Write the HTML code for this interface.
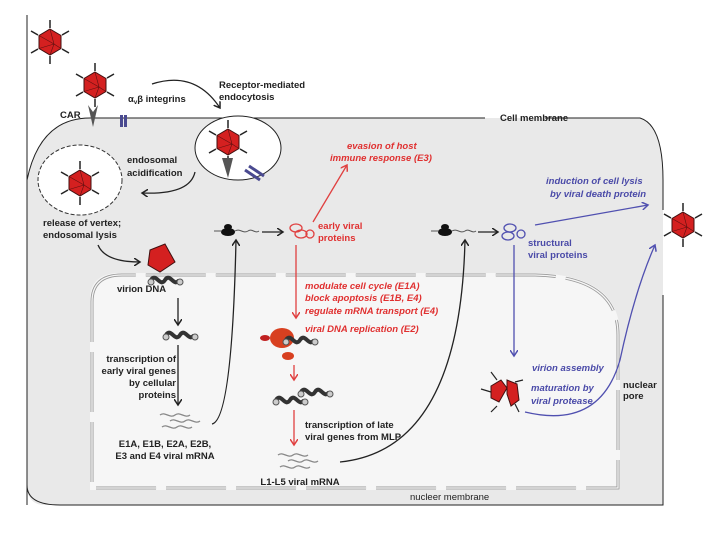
<!DOCTYPE html>
<html><head><meta charset="utf-8"><style>
body{margin:0;background:#fff}
svg{display:block;font-family:"Liberation Sans",sans-serif}
.b{font-size:9.5px;font-weight:bold;fill:#222}
.r{font-size:9.5px;font-weight:bold;font-style:italic;fill:#e03030}
.u{font-size:9.5px;font-weight:bold;font-style:italic;fill:#4a4aa8}
</style></head><body>
<svg width="720" height="540" viewBox="0 0 720 540">
<defs>
<marker id="ak" markerWidth="8" markerHeight="8" refX="6" refY="4" orient="auto" markerUnits="userSpaceOnUse"><path d="M0,0 L6,4 L0,8" fill="none" stroke="#222" stroke-width="1.5"/></marker>
<marker id="ar" markerWidth="8" markerHeight="8" refX="6" refY="4" orient="auto" markerUnits="userSpaceOnUse"><path d="M0,0 L6,4 L0,8" fill="none" stroke="#e04040" stroke-width="1.5"/></marker>
<marker id="au" markerWidth="8" markerHeight="8" refX="6" refY="4" orient="auto" markerUnits="userSpaceOnUse"><path d="M0,0 L6,4 L0,8" fill="none" stroke="#5050b0" stroke-width="1.5"/></marker>
<g id="vir"><g stroke="#222" stroke-width="1.5"><line x1="0" y1="-14" x2="0" y2="-22"/><line x1="12" y1="-7" x2="19" y2="-11"/><line x1="12" y1="7" x2="19" y2="11"/><line x1="0" y1="14" x2="0" y2="22"/><line x1="-12" y1="7" x2="-19" y2="11"/><line x1="-12" y1="-7" x2="-19" y2="-11"/></g><polygon points="0,-13 11,-6.5 11,6.5 0,13 -11,6.5 -11,-6.5" fill="#d42020" stroke="#401010" stroke-width="1"/><path d="M0,-13 L4,2 L11,6.5 M4,2 L-11,6.5 M4,2 L0,13 M-11,-6.5 L4,2" stroke="#601010" stroke-width="0.6" fill="none"/></g>
<g id="dna"><path d="M-14,0 c5,-8 9,8 14,0 c5,-8 9,8 14,0" stroke="#333" stroke-width="4" fill="none"/><circle cx="-14" cy="2" r="3" fill="#ccc" stroke="#555"/><circle cx="15" cy="2" r="3" fill="#ccc" stroke="#555"/></g>
<g id="mrna" fill="none" stroke="#888" stroke-width="1.3"><path d="M-20,0 c5,-4 10,4 15,0 c5,-4 10,4 15,0"/><path d="M-10,6 c5,-4 10,4 15,0 c5,-4 10,4 15,0"/><path d="M-18,12 c5,-4 10,4 15,0 c5,-4 10,4 15,0"/></g>
<g id="ribo"><ellipse cx="0" cy="2" rx="7" ry="4" fill="#111"/><ellipse cx="0" cy="-3" rx="4" ry="3" fill="#111"/><path d="M-14,1 L-6,1 M7,1 c5,-3 8,3 13,0 c4,-3 7,3 11,0" stroke="#555" fill="none"/></g>
</defs>
<!-- cell -->
<path d="M27,180 Q40,118 90,118 L640,118 Q663,125 663,180 L663,505 L45,505 Q27,505 27,485 Z" fill="#e9e9e9"/>
<path d="M27,180 Q40,118 90,118 L485,118 M545,118 L640,118 Q663,125 663,180 L663,210 M663,295 L663,505 L60,505 Q27,505 27,485" fill="none" stroke="#222" stroke-width="1"/>
<line x1="27" y1="15" x2="27" y2="505" stroke="#222" stroke-width="1"/>
<!-- nucleus -->
<path d="M90,300 Q90,273 120,273 L535,273 Q620,275 620,335 L620,490 L90,490 Z" fill="#f6f6f6"/>
<path d="M92,302 Q92,275 122,275 L535,275 Q618,277 618,335 L618,488 L92,488 Z" fill="none" stroke="#999" stroke-width="3" stroke-dasharray="60,10"/>
<path d="M92,302 Q92,275 122,275 L535,275 Q618,277 618,335 L618,488 L92,488 Z" fill="none" stroke="#f6f6f6" stroke-width="1.3" stroke-dasharray="60,10"/>
<!-- virions outside -->
<use href="#vir" x="50" y="42"/>
<use href="#vir" x="95" y="85"/>
<path d="M88,105 L93,127 L98,105 L93,112 Z" fill="#555"/>
<text class="b" x="60" y="118">CAR</text>
<rect x="120" y="115" width="3" height="12" fill="#4a4a90"/><rect x="124" y="115" width="3" height="12" fill="#4a4a90"/>
<text class="b" x="128" y="102">α<tspan font-size="6" dy="2">v</tspan><tspan dy="-2">β integrins</tspan></text>
<path d="M152,84 Q195,70 220,108" fill="none" stroke="#222" stroke-width="1.3" marker-end="url(#ak)"/>
<text class="b" x="219" y="88">Receptor-mediated</text><text class="b" x="219" y="100">endocytosis</text>
<text class="b" x="500" y="121">Cell membrane</text>
<!-- endosome -->
<ellipse cx="238" cy="148" rx="43" ry="32" fill="#fff" stroke="#222"/>
<use href="#vir" x="228" y="142"/>
<path d="M222,158 L228,178 L233,158 Z" fill="#555"/>
<path d="M245,170 L260,180 M249,166 L264,176" stroke="#4a4a90" stroke-width="3"/>
<path d="M195,172 Q190,195 142,193" fill="none" stroke="#222" stroke-width="1.3" marker-end="url(#ak)"/>
<text class="b" x="127" y="163">endosomal</text><text class="b" x="127" y="176">acidification</text>
<ellipse cx="80" cy="180" rx="42" ry="35" fill="#fff" stroke="#333" stroke-dasharray="4,2"/>
<use href="#vir" x="80" y="183" transform="translate(0,0)"/>
<text class="b" x="43" y="226">release of vertex;</text><text class="b" x="43" y="238">endosomal lysis</text>
<path d="M98,245 Q105,262 140,262" fill="none" stroke="#222" stroke-width="1.3" marker-end="url(#ak)"/>
<polygon points="150,250 165,244 175,262 160,272 148,265" fill="#d42020" stroke="#401010"/>
<use href="#dna" x="165" y="280"/>
<text class="b" x="117" y="292">virion DNA</text>
<use href="#dna" x="180" y="335"/>
<line x1="178" y1="298" x2="178" y2="325" stroke="#222" stroke-width="1.3" marker-end="url(#ak)"/>
<line x1="178" y1="345" x2="178" y2="405" stroke="#222" stroke-width="1.3" marker-end="url(#ak)"/>
<g class="b" text-anchor="end"><text x="176" y="362">transcription of</text><text x="176" y="374">early viral genes</text><text x="176" y="386">by cellular</text><text x="176" y="398">proteins</text></g>
<use href="#mrna" x="180" y="415"/>
<text class="b" x="165" y="447" text-anchor="middle">E1A, E1B, E2A, E2B,</text><text class="b" x="165" y="459" text-anchor="middle">E3 and E4 viral mRNA</text>
<path d="M212,424 Q232,420 236,240" fill="none" stroke="#222" stroke-width="1.3" marker-end="url(#ak)"/>
<use href="#ribo" x="228" y="230"/>
<line x1="262" y1="232" x2="283" y2="232" stroke="#222" stroke-width="1.3" marker-end="url(#ak)"/>
<g fill="none" stroke="#e04040" stroke-width="1.3"><ellipse cx="296" cy="228" rx="6" ry="4"/><ellipse cx="301" cy="234" rx="6" ry="4"/><circle cx="310" cy="234" r="4"/></g>
<text class="r" x="318" y="229" style="font-style:normal">early viral</text><text class="r" x="318" y="241" style="font-style:normal">proteins</text>
<line x1="313" y1="222" x2="347" y2="165" stroke="#e04040" stroke-width="1.3" marker-end="url(#ar)"/>
<text class="r" x="347" y="149">evasion of host</text><text class="r" x="330" y="161">immune response (E3)</text>
<line x1="296" y1="245" x2="296" y2="318" stroke="#e04040" stroke-width="1.3" marker-end="url(#ar)"/>
<text class="r" x="305" y="289">modulate cell cycle (E1A)</text><text class="r" x="305" y="301">block apoptosis (E1B, E4)</text><text class="r" x="305" y="314">regulate mRNA transport (E4)</text><text class="r" x="305" y="332">viral DNA replication (E2)</text>
<ellipse cx="282" cy="338" rx="12" ry="10" fill="#d84020"/><ellipse cx="265" cy="338" rx="5" ry="3" fill="#c02020"/><ellipse cx="288" cy="356" rx="6" ry="4" fill="#d84020"/>
<use href="#dna" x="300" y="340"/>
<line x1="294" y1="365" x2="294" y2="380" stroke="#e04040" stroke-width="1.3" marker-end="url(#ar)"/>
<use href="#dna" x="315" y="392"/><use href="#dna" x="290" y="400"/>
<line x1="294" y1="410" x2="294" y2="445" stroke="#e04040" stroke-width="1.3" marker-end="url(#ar)"/>
<text class="b" x="305" y="428">transcription of late</text><text class="b" x="305" y="440">viral genes from MLP</text>
<use href="#mrna" x="298" y="455"/>
<text class="b" x="300" y="485" text-anchor="middle">L1-L5 viral mRNA</text>
<path d="M340,462 Q460,450 465,240" fill="none" stroke="#222" stroke-width="1.3" marker-end="url(#ak)"/>
<use href="#ribo" x="445" y="230"/>
<line x1="478" y1="232" x2="498" y2="232" stroke="#222" stroke-width="1.3" marker-end="url(#ak)"/>
<g fill="none" stroke="#5050b0" stroke-width="1.3"><ellipse cx="510" cy="228" rx="6" ry="4"/><ellipse cx="508" cy="236" rx="6" ry="4"/><circle cx="521" cy="234" r="4"/></g>
<text class="u" x="528" y="246" style="font-style:normal">structural</text><text class="u" x="528" y="258" style="font-style:normal">viral proteins</text>
<line x1="535" y1="225" x2="648" y2="205" stroke="#5050b0" stroke-width="1.3" marker-end="url(#au)"/>
<text class="u" x="546" y="184">induction of cell lysis</text><text class="u" x="550" y="197">by viral death protein</text>
<use href="#vir" x="683" y="225"/>
<line x1="514" y1="245" x2="514" y2="356" stroke="#5050b0" stroke-width="1.3" marker-end="url(#au)"/>
<text class="u" x="532" y="371">virion assembly</text><text class="u" x="531" y="391">maturation by</text><text class="u" x="531" y="404">viral protease</text>
<g transform="translate(505,392)"><g stroke="#222" stroke-width="1.2"><line x1="-8" y1="-12" x2="-14" y2="-20"/><line x1="10" y1="-10" x2="18" y2="-12"/><line x1="-14" y1="0" x2="-24" y2="-3"/><line x1="-8" y1="14" x2="-14" y2="20"/><line x1="10" y1="12" x2="14" y2="20"/></g><polygon points="-14,-6 -4,-12 2,-4 -6,10 -14,6" fill="#d42020" stroke="#401010"/><polygon points="2,-12 12,-8 14,8 6,14 2,2" fill="#d42020" stroke="#401010"/></g>
<path d="M525,412 Q600,430 620,360 Q635,290 655,245" fill="none" stroke="#5050b0" stroke-width="1.3" marker-end="url(#au)"/>
<text class="b" x="623" y="388">nuclear</text><text class="b" x="623" y="399">pore</text>
<text class="b" x="410" y="500" style="font-weight:normal">nucleer membrane</text>
</svg>
</body></html>
